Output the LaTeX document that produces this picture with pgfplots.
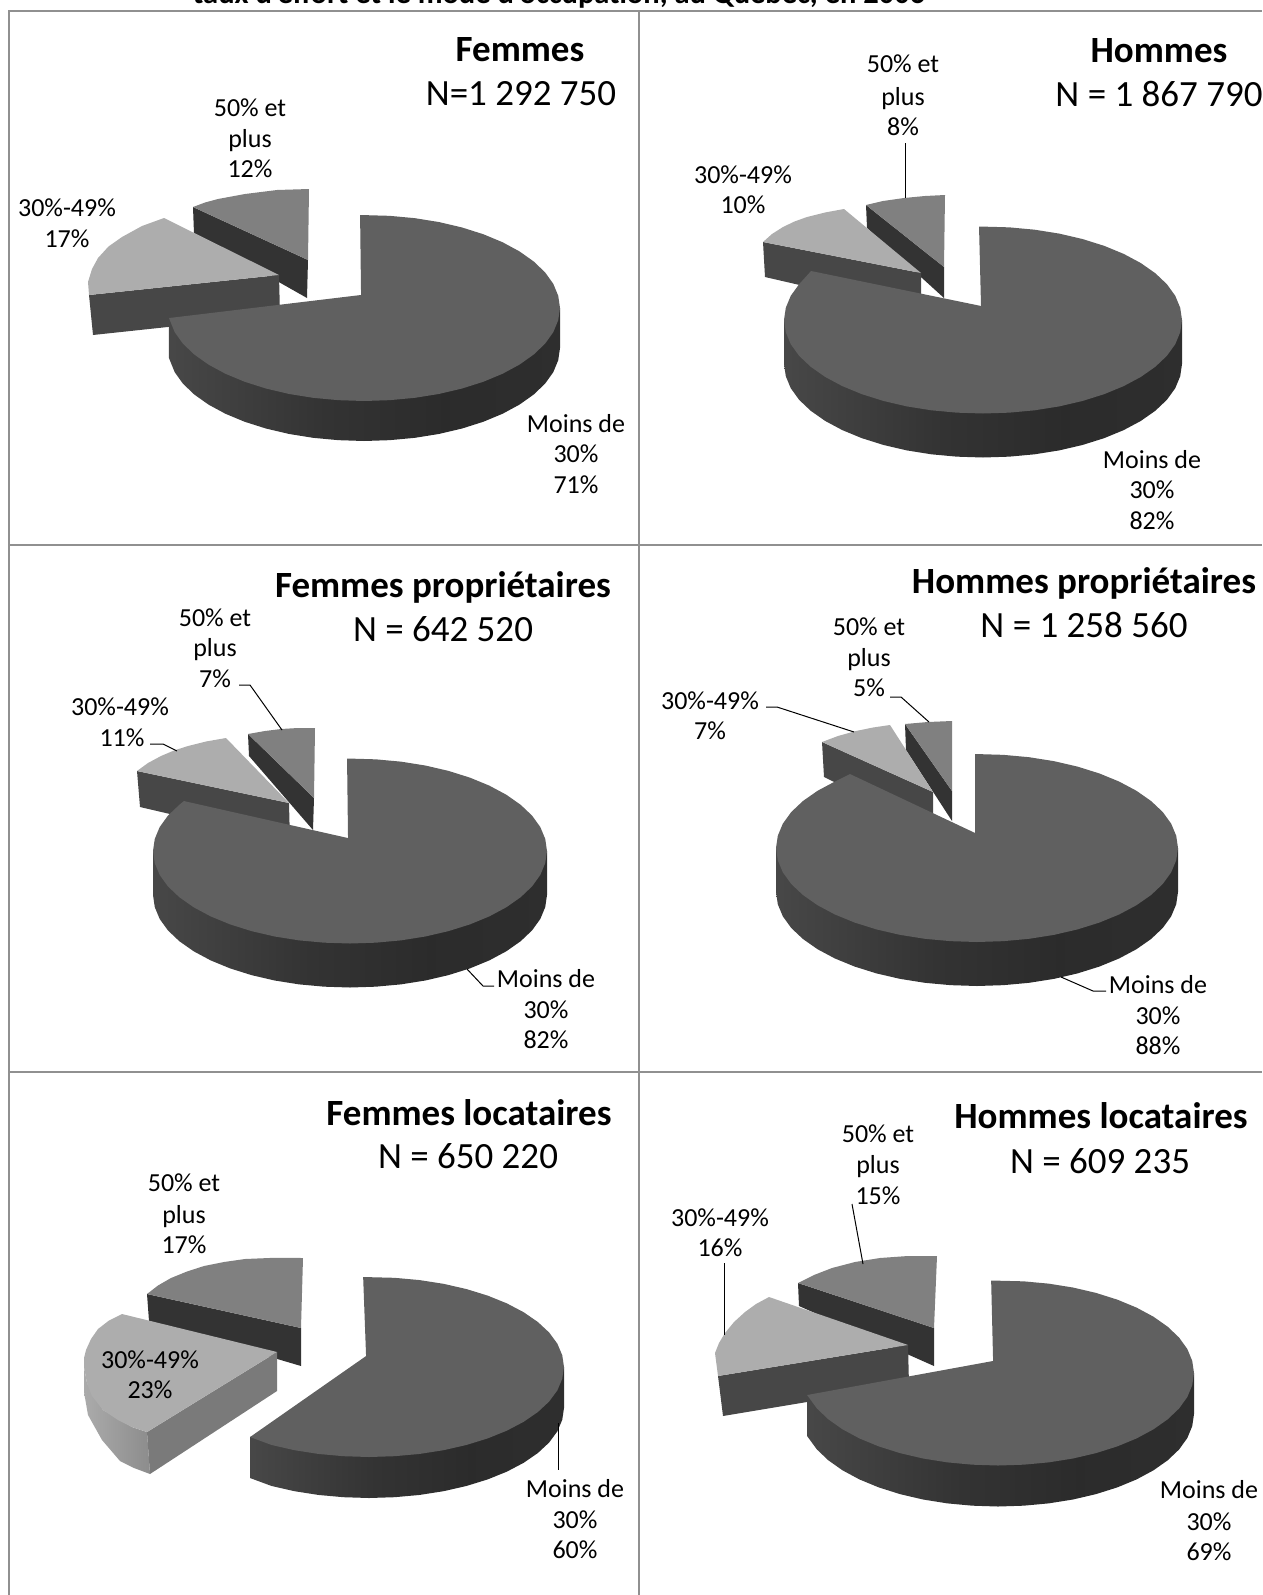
\documentclass[border=0pt]{standalone}
\usepackage{fontspec}
\setmainfont{Carlito}
\usepackage{pgfplots}
\pgfplotsset{compat=1.18}
\definecolor{topA}{HTML}{606060}
\definecolor{topB}{HTML}{ADADAD}
\definecolor{topC}{HTML}{808080}
\definecolor{cutB}{HTML}{474747}
\definecolor{cutC}{HTML}{333333}
\definecolor{cutL}{HTML}{7A7A7A}
\definecolor{framec}{HTML}{909090}
\pgfdeclarehorizontalshading{wallA}{100bp}{color(0bp)=(black!70!white); color(25bp)=(black!72!white); color(45bp)=(black!80!white); color(60bp)=(black!83!white); color(75bp)=(black!82!white); color(100bp)=(black!82!white)}
\pgfdeclarehorizontalshading{wallB}{100bp}{color(0bp)=(black!30!white); color(25bp)=(black!33!white); color(75bp)=(black!45!white); color(100bp)=(black!45!white)}
% polygon, in pixels
\newcommand{\poly}[2]{\addplot[fill=#1,draw=none,mark=none] coordinates {#2};}
% main slice: cx cy a b d, wall rows (u v w), top rows (u v)
\newcommand{\mainslice}[7]{%
  \addplot[draw=none,mark=none,shade,shading=wallA] table[row sep=\\,x expr=#1+#3*\thisrowno{0},y expr=#2-#4*\thisrowno{1}+#5*\thisrowno{2}] {#6};
  \addplot[fill=topA,draw=none,mark=none] table[row sep=\\,x expr=#1+#3*\thisrowno{0},y expr=#2-#4*\thisrowno{1}] {#7};
}
\newcommand{\lab}[3]{\node[anchor=base,inner sep=0pt,font=\fontsize{26}{30}\selectfont] at (axis cs:#1,#2+8) {#3};}
\newcommand{\titl}[3]{\node[anchor=base,inner sep=0pt,font=\fontsize{37}{40}\selectfont\bfseries] at (axis cs:#1,#2+11) {#3};}
\newcommand{\enn}[3]{\node[anchor=base,inner sep=0pt,font=\fontsize{37}{40}\selectfont] at (axis cs:#1,#2+11) {#3};}
\newcommand{\leader}[1]{\addplot[black,line width=1pt,mark=none] coordinates {#1};}
\begin{document}
\begin{tikzpicture}[x=1pt,y=1pt]
\useasboundingbox (0,0) rectangle (1262pt,1595pt);
\begin{axis}[at={(0,0)},anchor=south west,scale only axis,width=1262pt,height=1595pt,
  xmin=0,xmax=1262,ymin=0,ymax=1595,y dir=reverse,hide axis,clip=false]
% frame
\addplot[framec,line width=2pt,mark=none] coordinates {(9,1595) (9,11) (1262,11)};
\addplot[framec,line width=2pt,mark=none] coordinates {(639,11) (639,1595)};
\addplot[framec,line width=2pt,mark=none] coordinates {(9,545) (1262,545)};
\addplot[framec,line width=2pt,mark=none] coordinates {(9,1072) (1262,1072)};

% ---------- Femmes: 71 / 17 / 12
\poly{cutC}{(193,207) (308,260) (307,298) (194,234)}
\poly{topC}{(308,260) (193,207) (205,202.5) (218,199) (245,194) (277,190) (309,189)}
\poly{cutB}{(89,295) (279,275) (280,315) (93,335)}
\poly{topB}{(279,275) (89,295) (88,282) (92,269) (98,258) (108.5,246.5) (122,237) (142,226) (164,218)}
\mainslice{364}{308}{196}{93}{40}
{1 0 0\\ 1 0 1\\ .991 -.131 1\\ .966 -.259 1\\ .924 -.383 1\\ .866 -.5 1\\ .793 -.609 1\\ .707 -.707 1\\ .609 -.793 1\\ .5 -.866 1\\ .383 -.924 1\\ .259 -.966 1\\ .131 -.991 1\\ 0 -1 1\\ -.131 -.991 1\\ -.259 -.966 1\\ -.383 -.924 1\\ -.5 -.866 1\\ -.609 -.793 1\\ -.707 -.707 1\\ -.793 -.609 1\\ -.866 -.5 1\\ -.924 -.383 1\\ -.966 -.259 1\\ -.995 -.108 1\\ -.995 -.108 0\\}
{-.015 .14\\ -.02 1\\ .131 .991\\ .259 .966\\ .383 .924\\ .5 .866\\ .609 .793\\ .707 .707\\ .793 .609\\ .866 .5\\ .924 .383\\ .966 .259\\ .991 .131\\ 1 0\\ .991 -.131\\ .966 -.259\\ .924 -.383\\ .866 -.5\\ .793 -.609\\ .707 -.707\\ .609 -.793\\ .5 -.866\\ .383 -.924\\ .259 -.966\\ .131 -.991\\ 0 -1\\ -.131 -.991\\ -.259 -.966\\ -.383 -.924\\ -.5 -.866\\ -.609 -.793\\ -.707 -.707\\ -.793 -.609\\ -.866 -.5\\ -.924 -.383\\ -.966 -.259\\ -.995 -.108\\}

% ---------- Hommes: 82 / 10 / 8
\poly{cutC}{(866,205) (944,267) (944,298) (867,228)}
\poly{topC}{(944,267) (866,205) (883,201) (904,198) (925,196) (945,195)}
\poly{cutB}{(763,242) (921,273) (921,313) (765,277)}
\poly{topB}{(921,273) (763,242) (772,234) (783,227) (794.5,221.5) (807,217) (825,212.5) (844,209)}
\mainslice{983}{320}{199}{93.5}{44}
{1 0 0\\ 1 0 1\\ .991 -.131 1\\ .966 -.259 1\\ .924 -.383 1\\ .866 -.5 1\\ .793 -.609 1\\ .707 -.707 1\\ .609 -.793 1\\ .5 -.866 1\\ .383 -.924 1\\ .259 -.966 1\\ .131 -.991 1\\ 0 -1 1\\ -.131 -.991 1\\ -.259 -.966 1\\ -.383 -.924 1\\ -.5 -.866 1\\ -.609 -.793 1\\ -.707 -.707 1\\ -.793 -.609 1\\ -.866 -.5 1\\ -.924 -.383 1\\ -.966 -.259 1\\ -.991 -.131 1\\ -1 0 1\\ -1 0 0\\}
{-.01 .15\\ -.02 1\\ .131 .991\\ .259 .966\\ .383 .924\\ .5 .866\\ .609 .793\\ .707 .707\\ .793 .609\\ .866 .5\\ .924 .383\\ .966 .259\\ .991 .131\\ 1 0\\ .991 -.131\\ .966 -.259\\ .924 -.383\\ .866 -.5\\ .793 -.609\\ .707 -.707\\ .609 -.793\\ .5 -.866\\ .383 -.924\\ .259 -.966\\ .131 -.991\\ 0 -1\\ -.131 -.991\\ -.259 -.966\\ -.383 -.924\\ -.5 -.866\\ -.609 -.793\\ -.707 -.707\\ -.793 -.609\\ -.866 -.5\\ -.924 -.383\\ -.966 -.259\\ -.991 -.131\\ -1 0\\ -.991 .131\\ -.966 .259\\ -.924 .383\\ -.864 .524\\}

% ---------- Femmes proprietaires: 82 / 11 / 7
\poly{cutC}{(248,734) (314,798) (313,830) (249,756)}
\poly{topC}{(314,798) (248,734) (265,731) (281,729) (298,728) (315,728)}
\poly{cutB}{(137,771) (289,803) (290,842) (140,807)}
\poly{topB}{(289,803) (137,771) (148,763) (161,756) (174,750.5) (188,746) (206,741.5) (226,738)}
\mainslice{350}{851}{197}{92.5}{44}
{1 0 0\\ 1 0 1\\ .991 -.131 1\\ .966 -.259 1\\ .924 -.383 1\\ .866 -.5 1\\ .793 -.609 1\\ .707 -.707 1\\ .609 -.793 1\\ .5 -.866 1\\ .383 -.924 1\\ .259 -.966 1\\ .131 -.991 1\\ 0 -1 1\\ -.131 -.991 1\\ -.259 -.966 1\\ -.383 -.924 1\\ -.5 -.866 1\\ -.609 -.793 1\\ -.707 -.707 1\\ -.793 -.609 1\\ -.866 -.5 1\\ -.924 -.383 1\\ -.966 -.259 1\\ -.991 -.131 1\\ -1 0 1\\ -1 0 0\\}
{-.01 .14\\ -.015 1\\ .131 .991\\ .259 .966\\ .383 .924\\ .5 .866\\ .609 .793\\ .707 .707\\ .793 .609\\ .866 .5\\ .924 .383\\ .966 .259\\ .991 .131\\ 1 0\\ .991 -.131\\ .966 -.259\\ .924 -.383\\ .866 -.5\\ .793 -.609\\ .707 -.707\\ .609 -.793\\ .5 -.866\\ .383 -.924\\ .259 -.966\\ .131 -.991\\ 0 -1\\ -.131 -.991\\ -.259 -.966\\ -.383 -.924\\ -.5 -.866\\ -.609 -.793\\ -.707 -.707\\ -.793 -.609\\ -.866 -.5\\ -.924 -.383\\ -.966 -.259\\ -.991 -.131\\ -1 0\\ -.991 .131\\ -.966 .259\\ -.924 .383\\ -.866 .5\\ -.843 .54\\}

% ---------- Hommes proprietaires: 88 / 7 / 5
\poly{cutC}{(905,724) (952,791) (952,821) (906,750)}
\poly{topC}{(952,791) (905,724) (928,722) (952,721)}
\poly{cutB}{(822,742) (933,792) (933,830) (824,777)}
\poly{topB}{(933,792) (822,742) (838,736) (856,731) (873,727.5) (890,725)}
\mainslice{977}{848}{201}{94}{44}
{1 0 0\\ 1 0 1\\ .991 -.131 1\\ .966 -.259 1\\ .924 -.383 1\\ .866 -.5 1\\ .793 -.609 1\\ .707 -.707 1\\ .609 -.793 1\\ .5 -.866 1\\ .383 -.924 1\\ .259 -.966 1\\ .131 -.991 1\\ 0 -1 1\\ -.131 -.991 1\\ -.259 -.966 1\\ -.383 -.924 1\\ -.5 -.866 1\\ -.609 -.793 1\\ -.707 -.707 1\\ -.793 -.609 1\\ -.866 -.5 1\\ -.924 -.383 1\\ -.966 -.259 1\\ -.991 -.131 1\\ -1 0 1\\ -1 0 0\\}
{-.01 .16\\ -.01 1\\ .131 .991\\ .259 .966\\ .383 .924\\ .5 .866\\ .609 .793\\ .707 .707\\ .793 .609\\ .866 .5\\ .924 .383\\ .966 .259\\ .991 .131\\ 1 0\\ .991 -.131\\ .966 -.259\\ .924 -.383\\ .866 -.5\\ .793 -.609\\ .707 -.707\\ .609 -.793\\ .5 -.866\\ .383 -.924\\ .259 -.966\\ .131 -.991\\ 0 -1\\ -.131 -.991\\ -.259 -.966\\ -.383 -.924\\ -.5 -.866\\ -.609 -.793\\ -.707 -.707\\ -.793 -.609\\ -.866 -.5\\ -.924 -.383\\ -.966 -.259\\ -.991 -.131\\ -1 0\\ -.991 .131\\ -.966 .259\\ -.924 .383\\ -.866 .5\\ -.793 .609\\ -.707 .707\\ -.632 .787\\}

% ---------- Femmes locataires: 60 / 23 / 17
\poly{cutC}{(147,1294) (301,1328) (301,1366) (149,1321)}
\poly{topC}{(301,1328) (147,1294) (158,1285.5) (171,1278) (187,1271.5) (204,1266) (224,1262) (245,1259) (274,1257.8) (303,1258)}
\addplot[draw=none,mark=none,shade,shading=wallB] coordinates {(84,1367) (84,1392) (88,1415) (102,1440) (120,1461) (134,1468) (150,1474) (147,1432) (132,1427) (103,1410) (87,1383)};
\poly{cutL}{(277,1352) (147,1432) (150,1474) (277,1391)}
\poly{topB}{(277,1352) (122,1314) (109,1320.5) (98,1329) (91,1339) (86,1350) (84,1358) (84,1367) (87,1383) (92,1396) (103,1410) (118,1420) (132,1427) (147,1432)}
\mainslice{369}{1367}{195}{90}{41}
{1 0 0\\ 1 0 1\\ .991 -.131 1\\ .966 -.259 1\\ .924 -.383 1\\ .866 -.5 1\\ .793 -.609 1\\ .707 -.707 1\\ .609 -.793 1\\ .5 -.866 1\\ .383 -.924 1\\ .259 -.966 1\\ .131 -.991 1\\ 0 -1 1\\ -.131 -.991 1\\ -.259 -.966 1\\ -.383 -.924 1\\ -.5 -.866 1\\ -.61 -.778 1\\ -.61 -.778 0\\}
{-.015 .122\\ -.03 1\\ .131 .991\\ .259 .966\\ .383 .924\\ .5 .866\\ .609 .793\\ .707 .707\\ .793 .609\\ .866 .5\\ .924 .383\\ .966 .259\\ .991 .131\\ 1 0\\ .991 -.131\\ .966 -.259\\ .924 -.383\\ .866 -.5\\ .793 -.609\\ .707 -.707\\ .609 -.793\\ .5 -.866\\ .383 -.924\\ .259 -.966\\ .131 -.991\\ 0 -1\\ -.131 -.991\\ -.259 -.966\\ -.383 -.924\\ -.5 -.866\\ -.61 -.778\\}

% ---------- Hommes locataires: 69 / 16 / 15
\poly{cutC}{(798,1283) (934,1328) (934,1366) (799,1306)}
\poly{topC}{(934,1328) (798,1283) (814,1275) (832,1268) (855,1262) (880,1258) (908,1256) (937,1256)}
\poly{cutB}{(718,1376) (908,1345) (909,1385) (723,1416)}
\poly{topB}{(908,1345) (718,1376) (715,1353) (719,1343) (725,1333) (734,1322) (745,1312) (756,1304) (769,1297)}
\mainslice{998}{1373}{196}{92.5}{41}
{1 0 0\\ 1 0 1\\ .991 -.131 1\\ .966 -.259 1\\ .924 -.383 1\\ .866 -.5 1\\ .793 -.609 1\\ .707 -.707 1\\ .609 -.793 1\\ .5 -.866 1\\ .383 -.924 1\\ .259 -.966 1\\ .131 -.991 1\\ 0 -1 1\\ -.131 -.991 1\\ -.259 -.966 1\\ -.383 -.924 1\\ -.5 -.866 1\\ -.609 -.793 1\\ -.707 -.707 1\\ -.793 -.609 1\\ -.866 -.5 1\\ -.924 -.383 1\\ -.974 -.238 1\\ -.974 -.238 0\\}
{-.025 .13\\ -.035 1\\ .131 .991\\ .259 .966\\ .383 .924\\ .5 .866\\ .609 .793\\ .707 .707\\ .793 .609\\ .866 .5\\ .924 .383\\ .966 .259\\ .991 .131\\ 1 0\\ .991 -.131\\ .966 -.259\\ .924 -.383\\ .866 -.5\\ .793 -.609\\ .707 -.707\\ .609 -.793\\ .5 -.866\\ .383 -.924\\ .259 -.966\\ .131 -.991\\ 0 -1\\ -.131 -.991\\ -.259 -.966\\ -.383 -.924\\ -.5 -.866\\ -.609 -.793\\ -.707 -.707\\ -.793 -.609\\ -.866 -.5\\ -.924 -.383\\ -.974 -.238\\}

% leader lines
\leader{(905,143) (905,198)}
\leader{(239,685) (250,685) (282,730)}
\leader{(150,744) (163,744) (177,751)}
\leader{(467,969) (483,986) (494,986)}
\leader{(890,697) (901,697) (929,722)}
\leader{(766,707) (777,707) (854,732)}
\leader{(1061,977) (1093,991) (1106,991)}
\leader{(558,1423) (558,1470)}
\leader{(852,1204) (863,1264)}
\leader{(724,1263) (724,1335)}

% text
\node[anchor=base,inner sep=0pt,font=\fontsize{30.5}{34}\selectfont\bfseries] at (axis cs:559,4) {taux d'effort et le mode d'occupation, au Québec, en 2006};

\titl{520}{51}{Femmes} \enn{521}{94}{N=1 292 750}
\lab{250}{108}{50\% et} \lab{250}{139}{plus} \lab{250}{169}{12\%}
\lab{67}{208}{30\%-49\%} \lab{67}{239}{17\%}
\lab{576}{424}{Moins de} \lab{576}{454}{30\%} \lab{576}{485}{71\%}

\titl{1159}{52}{Hommes} \enn{1159}{95}{N = 1 867 790}
\lab{903}{65}{50\% et} \lab{903}{97}{plus} \lab{903}{127}{8\%}
\lab{743}{175}{30\%-49\%} \lab{743}{205}{10\%}
\lab{1152}{460}{Moins de} \lab{1152}{490}{30\%} \lab{1152}{521}{82\%}

\titl{443}{586}{Femmes propriétaires} \enn{443}{630}{N = 642 520}
\lab{215}{618}{50\% et} \lab{215}{648}{plus} \lab{215}{679}{7\%}
\lab{120}{707}{30\%-49\%} \lab{122}{738}{11\%}
\lab{546}{979}{Moins de} \lab{546}{1010}{30\%} \lab{546}{1040}{82\%}

\titl{1084}{582}{Hommes propriétaires} \enn{1084}{626}{N = 1 258 560}
\lab{869}{627}{50\% et} \lab{869}{658}{plus} \lab{869}{688}{5\%}
\lab{710}{701}{30\%-49\%} \lab{710}{731}{7\%}
\lab{1158}{985}{Moins de} \lab{1158}{1016}{30\%} \lab{1158}{1046}{88\%}

\titl{469}{1114}{Femmes locataires} \enn{468}{1157}{N = 650 220}
\lab{184}{1183}{50\% et} \lab{184}{1215}{plus} \lab{184}{1245}{17\%}
\lab{150}{1360}{30\%-49\%} \lab{150}{1390}{23\%}
\lab{575}{1489}{Moins de} \lab{575}{1520}{30\%} \lab{575}{1550}{60\%}

\titl{1101}{1117}{Hommes locataires} \enn{1100}{1162}{N = 609 235}
\lab{878}{1134}{50\% et} \lab{878}{1165}{plus} \lab{878}{1196}{15\%}
\lab{720}{1218}{30\%-49\%} \lab{720}{1248}{16\%}
\lab{1209}{1490}{Moins de} \lab{1209}{1522}{30\%} \lab{1209}{1552}{69\%}
\end{axis}
\end{tikzpicture}
\end{document}
